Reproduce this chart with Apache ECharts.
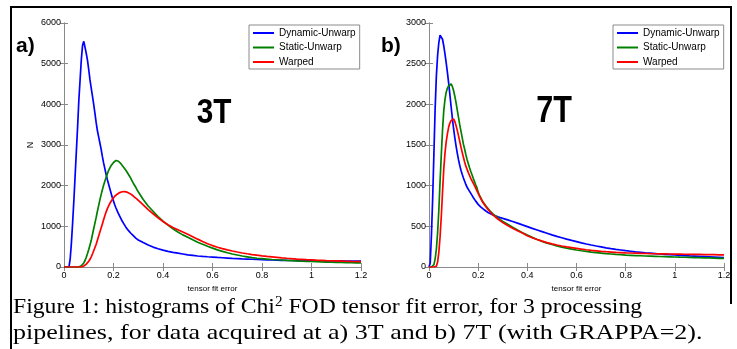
<!DOCTYPE html>
<html><head><meta charset="utf-8">
<script src="https://cdn.jsdelivr.net/npm/echarts@6/dist/echarts.min.js"></script>
<style>html,body{margin:0;padding:0;background:#fff}#c{width:737px;height:349px}</style>
</head><body><div id="c"></div>
<script>
// tensor fit error bin centres
const xs = [
  0,0.005,0.01,0.015,0.02,0.025,0.03,0.035,0.04,0.045,
  0.05,0.055,0.06,0.065,0.07,0.075,0.08,0.085,0.09,0.095,
  0.1,0.105,0.11,0.115,0.12,0.125,0.13,0.135,0.14,0.145,
  0.15,0.155,0.16,0.165,0.17,0.175,0.18,0.185,0.19,0.195,
  0.2,0.205,0.21,0.215,0.22,0.225,0.23,0.235,0.24,0.245,
  0.25,0.255,0.26,0.265,0.27,0.275,0.28,0.285,0.29,0.295,
  0.3,
  0.32,0.34,0.36,0.38,0.4,0.42,0.44,0.46,0.48,0.5,
  0.52,0.54,0.56,0.58,0.6,0.62,0.64,0.66,0.68,0.7,
  0.72,0.74,0.76,0.78,0.8,0.82,0.84,0.86,0.88,0.9,
  0.92,0.94,0.96,0.98,1,1.02,1.04,1.06,1.08,1.1,
  1.12,1.14,1.16,1.18,1.2
];
// Panel a) 3T
const a_dynamic = [
  0,0,0,0,0,200,600,1100,1650,2250,
  2850,3450,4100,4600,5100,5450,5550,5400,5250,5080,
  4850,4600,4400,4200,4000,3780,3550,3350,3200,3050,
  2900,2720,2560,2420,2280,2150,2040,1930,1820,1710,
  1620,1530,1450,1380,1310,1250,1190,1130,1080,1030,
  980,940,900,860,830,800,770,740,710,690,
  665,
  600,540,490,450,415,385,360,340,320,300,
  285,270,260,252,245,236,228,220,212,206,
  200,195,190,185,180,176,172,168,165,162,
  160,158,156,155,154,153,152,151,150,150,
  149,148,148,147,147
];
const a_static = [
  0,0,0,0,0,0,0,0,0,0,
  0,0,0,10,30,60,100,160,240,330,
  430,540,650,800,940,1080,1220,1370,1510,1650,
  1780,1900,2010,2110,2200,2290,2370,2430,2490,2530,
  2570,2600,2620,2610,2600,2580,2540,2500,2460,2420,
  2380,2330,2280,2230,2180,2120,2060,2010,1960,1900,
  1850,
  1660,1500,1370,1240,1130,1030,940,860,790,730,
  670,610,560,510,465,420,385,350,320,295,
  270,250,230,215,205,195,185,178,172,165,
  158,150,145,140,135,130,126,122,118,115,
  112,110,106,103,100
];
const a_warped = [
  0,0,0,0,0,0,0,0,0,0,
  0,0,0,0,0,10,25,45,70,100,
  140,190,250,320,400,480,560,660,760,860,
  960,1060,1160,1260,1350,1430,1500,1560,1610,1660,
  1700,1740,1770,1790,1810,1830,1840,1850,1855,1855,
  1850,1840,1825,1810,1790,1770,1745,1720,1695,1670,
  1640,
  1530,1410,1310,1210,1120,1040,970,915,860,805,
  745,685,628,572,527,487,452,421,393,368,
  345,325,306,290,275,262,250,238,226,215,
  205,196,188,180,174,168,163,158,154,150,
  146,142,138,135,132
];
// Panel b) 7T
const b_dynamic = [
  0,50,400,850,1400,1950,2350,2600,2760,2850,
  2850,2800,2720,2620,2510,2390,2260,2120,1970,1830,
  1700,1590,1490,1400,1320,1250,1190,1140,1095,1055,
  1015,980,955,930,905,880,855,832,810,790,
  770,755,740,727,714,702,691,681,671,662,
  654,647,640,634,628,622,617,612,607,602,
  598,
  580,560,540,518,497,475,455,435,415,395,
  377,360,343,327,312,297,283,270,258,247,
  236,226,217,209,201,194,187,181,175,170,
  165,160,156,152,148,144,140,136,133,130,
  127,124,121,118,115
];
const b_static = [
  0,0,0,0,30,100,220,420,700,1050,
  1380,1680,1920,2060,2150,2200,2230,2250,2250,2220,
  2170,2100,2020,1930,1840,1750,1670,1590,1510,1450,
  1380,1320,1270,1220,1175,1135,1090,1050,1010,975,
  920,885,855,825,800,778,757,737,718,700,
  683,668,653,640,627,615,603,592,581,571,
  561,
  525,490,455,422,392,364,338,315,294,276,
  260,245,232,220,209,200,192,184,177,171,
  165,160,155,151,147,144,141,138,135,133,
  131,129,127,125,123,121,120,118,116,115,
  113,111,109,107,105
];
const b_warped = [
  0,0,0,0,0,0,10,60,180,370,
  620,920,1200,1400,1540,1640,1720,1770,1800,1815,
  1820,1790,1740,1680,1615,1545,1475,1410,1350,1290,
  1240,1200,1160,1125,1090,1060,1030,1000,970,935,
  905,875,845,815,790,768,748,728,708,690,
  673,657,642,628,615,602,590,578,567,556,
  546,
  510,477,446,418,385,360,338,318,300,285,
  271,258,247,238,229,220,212,205,199,193,
  188,184,180,177,174,172,170,168,166,164,
  163,162,161,160,159,158,157,156,155,154,
  153,152,151,150,149
];
const seriesNames = ['Dynamic-Unwarp','Static-Unwarp','Warped'];
const seriesColors = ['#0000ff','#008000','#ff0000'];
const panelLabels = ['a)','b)'];
const fieldLabels = ['3T','7T'];
const xName = 'tensor fit error';
const yNameA = 'N';
const captionLine1 = 'Figure 1: histograms of Chi{sup|2} FOD tensor fit error, for 3 processing';
const captionLine2 = 'pipelines, for data acquired at a) 3T and b) 7T (with GRAPPA=2).';

const AX = '#8a8a8a';
const FONT = 'Liberation Sans';
function pairs(vals){ return xs.map((x,i)=>[x, vals[i]]); }

function xAxisPair(g){
  return [
    { gridIndex:g, type:'value', min:0, max:1.2, interval:0.2, position:'bottom',
      axisLine:{show:true, lineStyle:{color:AX, width:1}},
      axisTick:{show:true, inside:true, length:4, lineStyle:{color:AX}},
      splitLine:{show:false},
      axisLabel:{show:true, margin:4, fontSize:9, fontFamily:FONT, color:'#000',
        formatter:v=>String(+v.toFixed(1))},
      name:xName, nameLocation:'middle', nameGap:16,
      nameTextStyle:{fontSize:8, fontFamily:FONT, color:'#000'} },
    { gridIndex:g, type:'value', min:0, max:1.2, interval:0.2, position:'top',
      axisLine:{show:true, lineStyle:{color:AX, width:1}},
      axisTick:{show:true, inside:true, length:4, lineStyle:{color:AX}},
      splitLine:{show:false}, axisLabel:{show:false} }
  ];
}
function yAxisPair(g, max, interval, name){
  return [
    { gridIndex:g, type:'value', min:0, max:max, interval:interval, position:'left',
      axisLine:{show:true, lineStyle:{color:AX, width:1}},
      axisTick:{show:true, inside:true, length:4, lineStyle:{color:AX}},
      splitLine:{show:false},
      axisLabel:{show:true, margin:3, fontSize:9, fontFamily:FONT, color:'#000',
        formatter:v=>String(v)},
      name:name, nameLocation:'middle', nameGap:29, nameRotate:90,
      nameTextStyle:{fontSize:9, fontFamily:FONT, color:'#000'} },
    { gridIndex:g, type:'value', min:0, max:max, interval:interval, position:'right',
      axisLine:{show:true, lineStyle:{color:AX, width:1}},
      axisTick:{show:true, inside:true, length:4, lineStyle:{color:AX}},
      splitLine:{show:false}, axisLabel:{show:false} }
  ];
}
function legend(left){
  return { orient:'vertical', left:left, top:25, itemWidth:21, itemHeight:2, icon:'rect',
    itemGap:2.5, padding:[2,4,1,4], borderColor:AX, borderWidth:1, backgroundColor:'#fff',
    selectedMode:false, data:seriesNames,
    textStyle:{fontSize:10, fontFamily:FONT, color:'#000', lineHeight:12} };
}
const dataA = [a_dynamic, a_static, a_warped];
const dataB = [b_dynamic, b_static, b_warped];
const series = [];
[dataA, dataB].forEach((set, g)=>{
  set.forEach((vals, k)=>{
    series.push({ name:seriesNames[k], type:'line', xAxisIndex:g*2, yAxisIndex:g*2,
      data:pairs(vals), showSymbol:false, symbol:'none', color:seriesColors[k],
      lineStyle:{width:1.7, color:seriesColors[k]}, animation:false, z:3 });
  });
});

const chart = echarts.init(document.getElementById('c'), null, {renderer:'canvas'});
chart.setOption({
  backgroundColor:'#fff',
  animation:false,
  grid:[
    {left:64, top:23, width:297, height:244},
    {left:429, top:23, width:295, height:244}
  ],
  xAxis:[...xAxisPair(0), ...xAxisPair(1)],
  yAxis:[...yAxisPair(0, 6000, 1000, yNameA), ...yAxisPair(1, 3000, 500, '')],
  legend:[legend(249), legend(613)],
  series:series,
  graphic:[
    {type:'line', shape:{x1:10, y1:7, x2:732, y2:7}, style:{stroke:'#000', lineWidth:2}},
    {type:'line', shape:{x1:11, y1:6, x2:11, y2:349}, style:{stroke:'#000', lineWidth:2}},
    {type:'line', shape:{x1:731, y1:6, x2:731, y2:304}, style:{stroke:'#000', lineWidth:2}},
    {type:'text', x:16, y:36, style:{text:panelLabels[0], font:'bold 21px "Liberation Sans"', fill:'#000', verticalAlign:'alphabetic'}},
    {type:'text', x:381, y:36, style:{text:panelLabels[1], font:'bold 21px "Liberation Sans"', fill:'#000', verticalAlign:'alphabetic'}},
    {type:'text', x:214, y:113, scaleX:0.85, style:{text:fieldLabels[0], font:'bold 35px "Liberation Sans"', fill:'#000', align:'center', verticalAlign:'middle'}},
    {type:'text', x:554, y:112, scaleX:0.85, style:{text:fieldLabels[1], font:'bold 36px "Liberation Sans"', fill:'#000', align:'center', verticalAlign:'middle'}},
    {type:'text', x:13, y:295, scaleX:1.077, style:{text:captionLine1,
      fontFamily:'Liberation Serif', fontSize:22, lineHeight:24, fill:'#000',
      verticalAlign:'top', align:'left',
      rich:{ sup:{fontFamily:'Liberation Serif', fontSize:14, verticalAlign:'top', fill:'#000'} } }},
    {type:'text', x:13, y:321, scaleX:1.183, style:{text:captionLine2,
      fontFamily:'Liberation Serif', fontSize:22, lineHeight:24, fill:'#000',
      verticalAlign:'top', align:'left'}}
  ]
});
</script></body></html>
